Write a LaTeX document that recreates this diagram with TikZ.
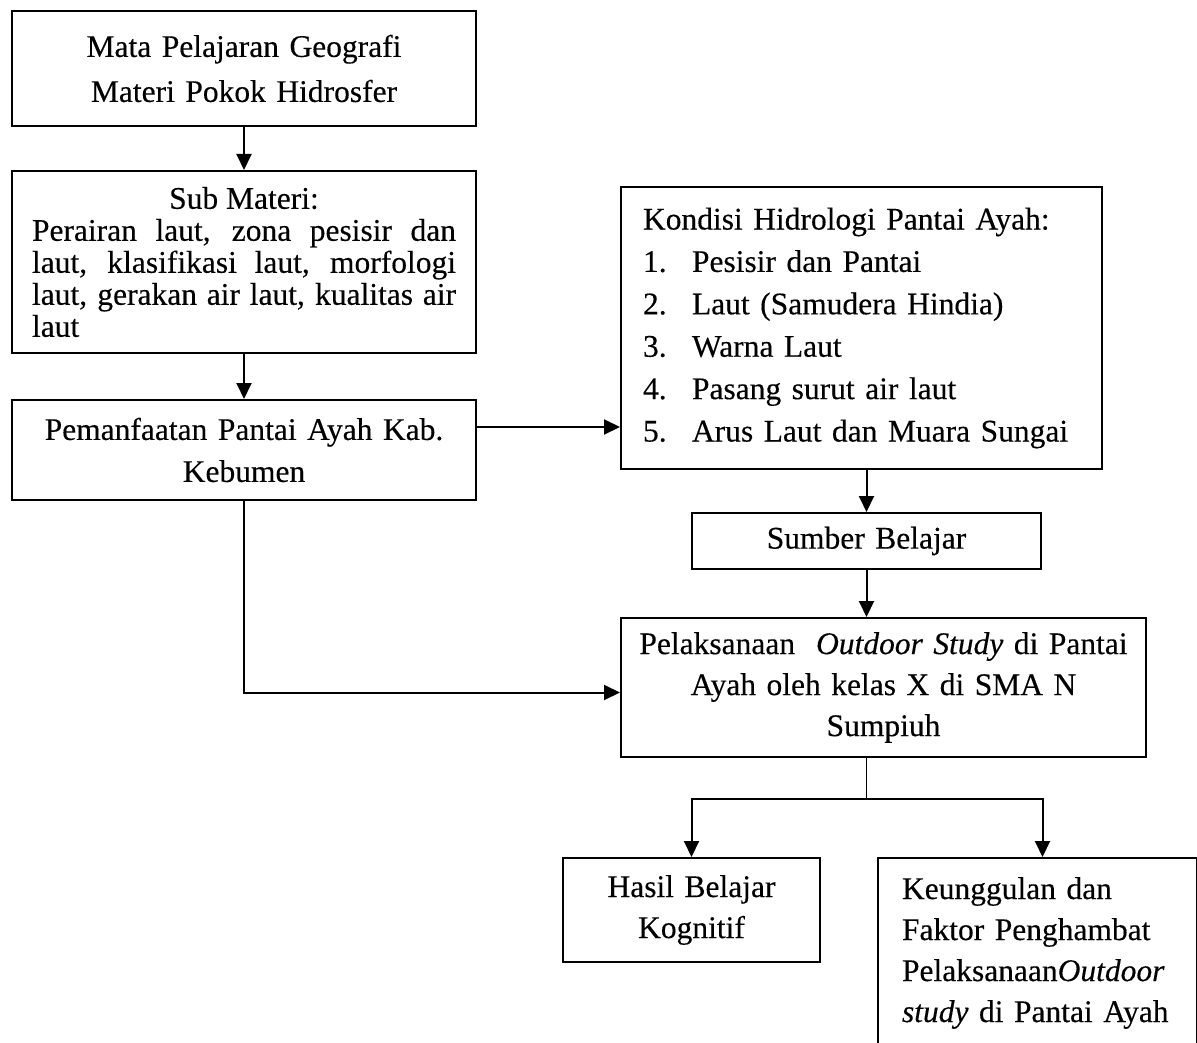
\documentclass[tikz,border=0pt]{standalone}
\usepackage{fontspec}
\setmainfont{Liberation Serif}[FakeBold=0.3]
\usepackage{tikz}
\usetikzlibrary{positioning,arrows.meta,calc}

\newcommand{\numitem}[1]{\makebox[49pt][l]{#1}}

\begin{document}
\begin{tikzpicture}[
    x=1pt, y=-1pt,
    font=\fontsize{31.5pt}{41pt}\selectfont,
    box/.style={draw, line width=2pt, anchor=north west, align=center, inner xsep=20pt, inner ysep=0pt},
    arr/.style={-{Triangle[length=16pt,width=15pt]}, line width=2pt},
    link/.style={line width=1.6pt}
]
\useasboundingbox (0,0) rectangle (1197,1043);
\clip (0,0) rectangle (1197,1043);

\node[box, text width=424pt, minimum height=115pt, font=\fontsize{31.5pt}{45pt}\selectfont] (mapel) at (11,10) {Mata Pelajaran Geografi\\Materi Pokok Hidrosfer};
\node[box, text width=424pt, minimum height=182pt, align=justify, font=\fontsize{31.5pt}{32pt}\selectfont, below=43pt of mapel] (submateri) {{\centering Sub Materi:\par}\noindent Perairan laut, zona pesisir dan laut, klasifikasi laut, morfologi laut, gerakan air laut, kualitas air laut};
\node[box, text width=424pt, minimum height=100pt, font=\fontsize{31.5pt}{42pt}\selectfont, below=45pt of submateri] (manfaat) {Pemanfaatan Pantai Ayah Kab.\\Kebumen};

\node[box, align=left, inner xsep=22pt, text width=437pt, minimum height=282pt, font=\fontsize{31.5pt}{42.4pt}\selectfont] (kondisi) at (620,186) {Kondisi Hidrologi Pantai Ayah:\\\numitem{1.}Pesisir dan Pantai\\\numitem{2.}Laut (Samudera Hindia)\\\numitem{3.}Warna Laut\\\numitem{4.}Pasang surut air laut\\\numitem{5.}Arus Laut dan Muara Sungai};
\node[box, text width=309pt, minimum height=56pt] (sumber) at (691,512) {Sumber Belajar};
\node[box, inner xsep=6pt, text width=513pt, minimum height=139pt] (outdoor) at (620,617) {Pelaksanaan\ \ \textit{Outdoor Study} di Pantai\\Ayah oleh kelas X di SMA N\\Sumpiuh};

\node[box, text width=217pt, minimum height=104pt] (hasil) at (562,857) {Hasil Belajar\\Kognitif};
\node[box, align=left, inner xsep=24pt, text width=271pt, minimum height=190pt] (faktor) at (877,857) {Keunggulan dan\\Faktor Penghambat\\Pelaksanaan\textit{Outdoor}\\\textit{study} di Pantai Ayah};

\draw[arr] (mapel) -- (submateri);
\draw[arr] (submateri) -- (manfaat);
\draw[arr] ([yshift=23pt]manfaat.east) -- ([yshift=23pt]manfaat.east -| kondisi.west);
\draw[arr] (manfaat.south) |- ([yshift=-5pt]outdoor.west);
\draw[arr] (kondisi.south -| sumber.north) -- (sumber.north);
\draw[arr] (sumber.south) -- (sumber.south |- outdoor.north);
\draw[link] (outdoor.south -| sumber.south) -- ++(0,41) coordinate (fork);
\draw[arr] (fork) -| (hasil.north);
\draw[arr] (fork) -| ([xshift=5pt]faktor.north);
\end{tikzpicture}
\end{document}
